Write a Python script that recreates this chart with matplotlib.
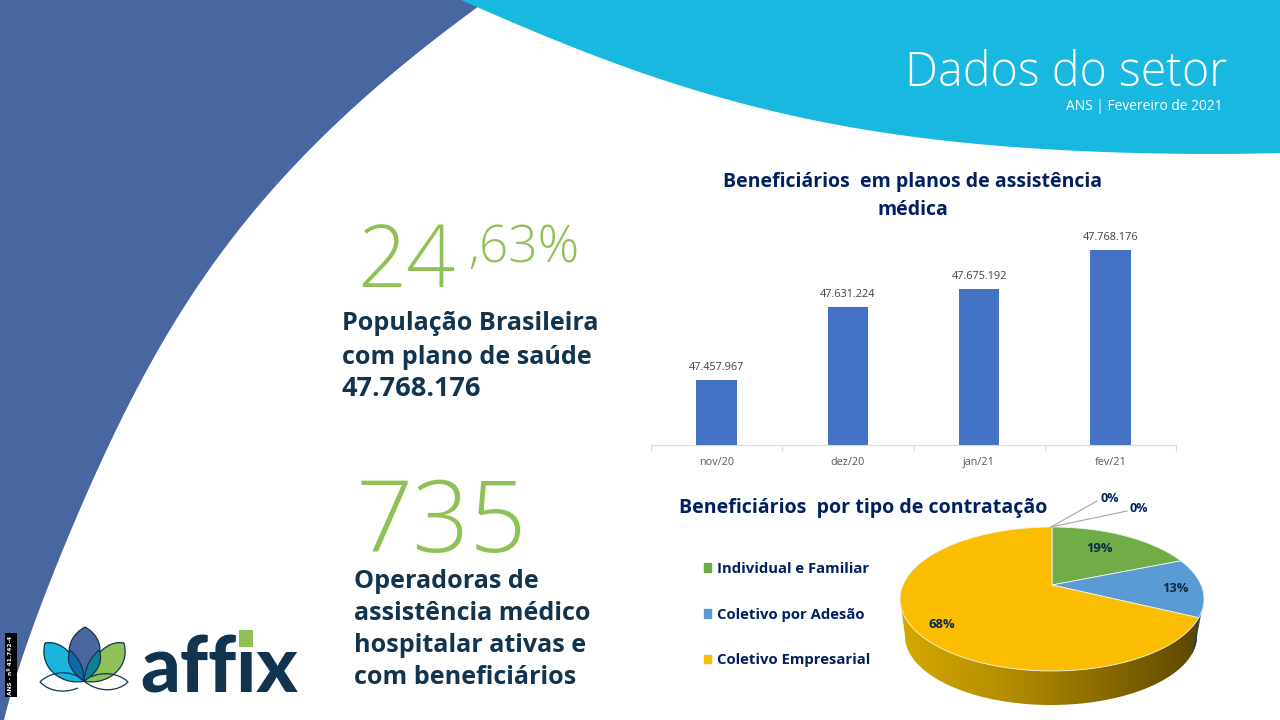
import numpy as np
import matplotlib
matplotlib.use("Agg")
import matplotlib.pyplot as plt
from matplotlib.colors import LinearSegmentedColormap
from matplotlib.patches import Patch, PathPatch, Polygon, Rectangle
from matplotlib.path import Path

months = ["nov/20", "dez/20", "jan/21", "fev/21"]
beneficiaries = [47457967, 47631224, 47675192, 47768176]

pie_labels = ["Individual e Familiar", "Coletivo por Adesão", "Coletivo Empresarial"]
pie_shares = [19, 13, 68]
pie_colors = ["#70AD47", "#5B9BD5", "#FBBD00"]

W, H = 1280, 720
NAVY = "#002060"
DARK = "#12344F"
GREEN = "#8FC156"
BLUE_BG = "#4867A1"
CYAN = "#18B8E0"
SANS = "Open Sans"
THIN = "Open Sans"

fig = plt.figure(figsize=(W / 100, H / 100), dpi=100, facecolor="white")


def px_axes(left, top, right, bottom):
    return fig.add_axes([left / W, 1 - bottom / H, (right - left) / W, (bottom - top) / H])


# background canvas in pixel coordinates
bg = fig.add_axes([0, 0, 1, 1])
bg.set_xlim(0, W)
bg.set_ylim(H, 0)
bg.axis("off")

# left blue swoosh
edge_y = [0, 8, 63, 130, 203, 280, 360, 457, 557, 637, 720]
edge_x = [486, 477, 408, 326, 261, 204, 152, 102, 61, 29, 4]
yy = np.linspace(0, H, 200)
xx = np.polyval(np.polyfit(edge_y, edge_x, 5), yy)
bg.fill(np.r_[0, xx, 0], np.r_[0, yy, H], color=BLUE_BG, lw=0)

# top cyan swoosh
top_x = [461, 530, 640, 722, 803, 885, 967, 1048, 1130, 1211, 1280]
top_y = [0, 30, 72, 98, 118, 133, 143, 149, 153, 154, 153]
xs = np.linspace(461, W, 200)
ys = np.polyval(np.polyfit(np.array(top_x) / 1000, top_y, 5), xs / 1000)
bg.fill(np.r_[461, xs, W], np.r_[0, ys, 0], color=CYAN, lw=0)

bg.text(1227, 86, "Dados do setor", family=SANS, weight="light", fontsize=33.6, color="white",
        ha="right", va="baseline")
bg.text(1222, 107, "ANS | Fevereiro de 2021", family=SANS, fontsize=9.9, color="white",
        ha="right", va="center")

# big numbers and captions
bg.text(357, 287, "24", family=THIN, weight="light", fontsize=62, color=GREEN, ha="left", va="baseline")
bg.text(468, 262, ",63%", family=THIN, weight="light", fontsize=37, color=GREEN, ha="left", va="baseline")
bg.text(356, 552, "735", family=THIN, weight="light", fontsize=72, color=GREEN, ha="left", va="baseline")

for y, line, size in zip([323.5, 357.5, 388.5], ["População Brasileira", "com plano de saúde", "47.768.176"],
                         [18.1, 18.1, 19.5]):
    bg.text(342, y, line, family=SANS, weight="bold", fontsize=size, color=DARK, ha="left", va="center")
for y, line in zip([582, 613, 645, 677], ["Operadoras de", "assistência médico", "hospitalar ativas e", "com beneficiários"]):
    bg.text(354, y, line, family=SANS, weight="bold", fontsize=18.1, color=DARK, ha="left", va="center")

# registry badge
bg.add_patch(Rectangle((5, 633), 12, 64, color="black", lw=0))
bg.text(11, 665, "ANS - nº 41.742-4", color="white", fontsize=4.2, weight="bold",
        rotation=90, ha="center", va="center")


# logo
def petal(pts, color):
    codes = [Path.MOVETO] + [Path.CURVE4] * (len(pts) - 1)
    bg.add_patch(PathPatch(Path(pts, codes), fc=color, ec=DARK, lw=0.9))


petal([(45, 643), (62, 640), (76, 655), (84, 681), (65, 686), (38, 670), (45, 643)], "#1CB5DD")
petal([(124, 643), (107, 640), (93, 655), (84, 681), (104, 686), (131, 670), (124, 643)], "#8FC156")
petal([(85, 627), (62, 640), (66, 665), (84, 681), (102, 665), (108, 640), (85, 627)], BLUE_BG)
petal([(70, 650), (64, 664), (76, 676), (84, 681), (84, 670), (81, 660), (70, 650)], "#0F69A4")
petal([(99, 650), (105, 664), (93, 676), (84, 681), (85, 670), (88, 660), (99, 650)], "#0F7F93")
for pts in [[(84, 681), (70, 668), (50, 672), (40, 682), (52, 694), (68, 692), (78, 688)],
            [(84, 681), (98, 693), (118, 692), (128, 682), (118, 672), (100, 672), (91, 677)]]:
    bg.add_patch(PathPatch(Path(pts, [Path.MOVETO] + [Path.CURVE4] * 6), fc="none", ec=DARK, lw=0.9))

bg.text(140, 692, "affix", family="Lato", weight="black", fontsize=56, color=DARK,
        ha="left", va="baseline")
# green square sits over the dot of the i
bg.add_patch(Rectangle((239, 630), 14, 17, color=GREEN, lw=0, zorder=5))

# bar chart
ax = px_axes(651, 230, 1176, 445)
ax.patch.set_alpha(0)
px_value = 2386
base = 47302877
x = np.arange(len(months))
bars = ax.bar(x, beneficiaries, width=0.31, color="#4472C4")
ax.set_xlim(-0.5, 3.5)
ax.set_ylim(base, base + 215 * px_value)
ax.bar_label(bars, labels=[f"{v:,}".replace(",", ".") for v in beneficiaries], padding=5,
             family=SANS, fontsize=7.8, color="#404040")
ax.set_xticks(x, months, family=SANS, fontsize=7.8, color="#595959")
ax.set_xticks(np.arange(-0.5, 4), minor=True)
ax.tick_params(axis="x", which="major", length=0, pad=8.5)
ax.tick_params(axis="x", which="minor", length=4, width=0.8, color="#D9D9D9")
ax.yaxis.set_visible(False)
for side in ["top", "left", "right"]:
    ax.spines[side].set_visible(False)
ax.spines["bottom"].set_color("#D9D9D9")

bg.text(913, 196, "Beneficiários  em planos de assistência\nmédica", family=SANS, weight="bold",
        fontsize=14, color=NAVY, ha="center", va="center", linespacing=1.5)
bg.text(863, 508, "Beneficiários  por tipo de contratação", family=SANS, weight="bold",
        fontsize=14.1, color=NAVY, ha="center", va="center")

# 3d pie: top face is an ellipse seen in perspective, so the apex sits above its centre
cx, cy, rx, ry = 1052, 599, 152, 72
apex_y = 585
bx, by, brx, bry = 1051, 636, 146, 69
d = (apex_y - cy) / ry


def rim(frac, scale=(cx, cy, rx, ry)):
    a = 2 * np.pi * np.asarray(frac, dtype=float)
    s = d * np.cos(a) + np.sqrt((d * np.cos(a)) ** 2 - d ** 2 + 1)
    u, v = s * np.sin(a), -s * np.cos(a) + d
    return scale[0] + scale[2] * u, scale[1] + scale[3] * v


# side wall with a horizontal gradient
t = np.linspace(0, np.pi, 120)
side = np.c_[np.r_[bx + brx * np.cos(t), cx - rx, cx + rx], np.r_[by + bry * np.sin(t), cy, cy]]
side_patch = Polygon(side, closed=True, fc="none", ec="none")
bg.add_patch(side_patch)
shade = LinearSegmentedColormap.from_list("side", ["#D6A800", "#B58F00", "#8A6B00", "#5A4500"])
im = bg.imshow(np.linspace(0, 1, 256)[None, :], extent=(cx - rx, cx + rx, 710, 590), cmap=shade,
               aspect="auto", zorder=2)
im.set_clip_path(side_patch)
bg.set_xlim(0, W)
bg.set_ylim(H, 0)

# blue slice's own sliver of wall
f0, f1 = 0.32, 0.25
pts_top = np.c_[rim(np.linspace(f1, f0, 12))]
pts_low = np.c_[rim(np.linspace(f0, f1, 12), (bx, by, brx, bry))]
bg.fill(np.r_[pts_top[:, 0], pts_low[:, 0]], np.r_[pts_top[:, 1], pts_low[:, 1]],
        color="#1F3F66", lw=0, zorder=2.1)

cum = np.cumsum([0] + pie_shares) / sum(pie_shares)
for start, stop, color in zip(cum[:-1], cum[1:], pie_colors):
    ex, ey = rim(np.linspace(start, stop, 120))
    bg.fill(np.r_[cx, ex], np.r_[apex_y, ey], fc=color, ec="#F4F4F4", lw=0.6, zorder=3)

for (lx, ly), share in zip([(1100, 548), (1175, 588), (942, 624)], pie_shares):
    bg.text(lx, ly, f"{share}%", family=SANS, weight="bold", fontsize=9.4, color="#0B2A4A",
            ha="center", va="center", zorder=4)

# the two empty slices only show as leader lines
for (lx, ly), (tx, ty) in zip([(1097, 501), (1127, 511)], [(1110, 498), (1139, 509)]):
    bg.plot([cx - 1, lx], [527, ly], color="#A6A6A6", lw=0.8, zorder=4)
    bg.text(tx, ty, "0%", family=SANS, weight="bold", fontsize=9, color=NAVY,
            ha="center", va="center", zorder=4)

handles = [Patch(color=c) for c in pie_colors]
bg.legend(handles, pie_labels, loc="upper left", bbox_to_anchor=(704 / W, 1 - 562 / H), frameon=False,
          prop={"family": SANS, "weight": "bold", "size": 10.7}, labelcolor=NAVY, handlelength=0.5,
          handleheight=0.5, handletextpad=0.38, labelspacing=2.13, borderpad=0, borderaxespad=0)

fig.savefig("out.png", dpi=100)
